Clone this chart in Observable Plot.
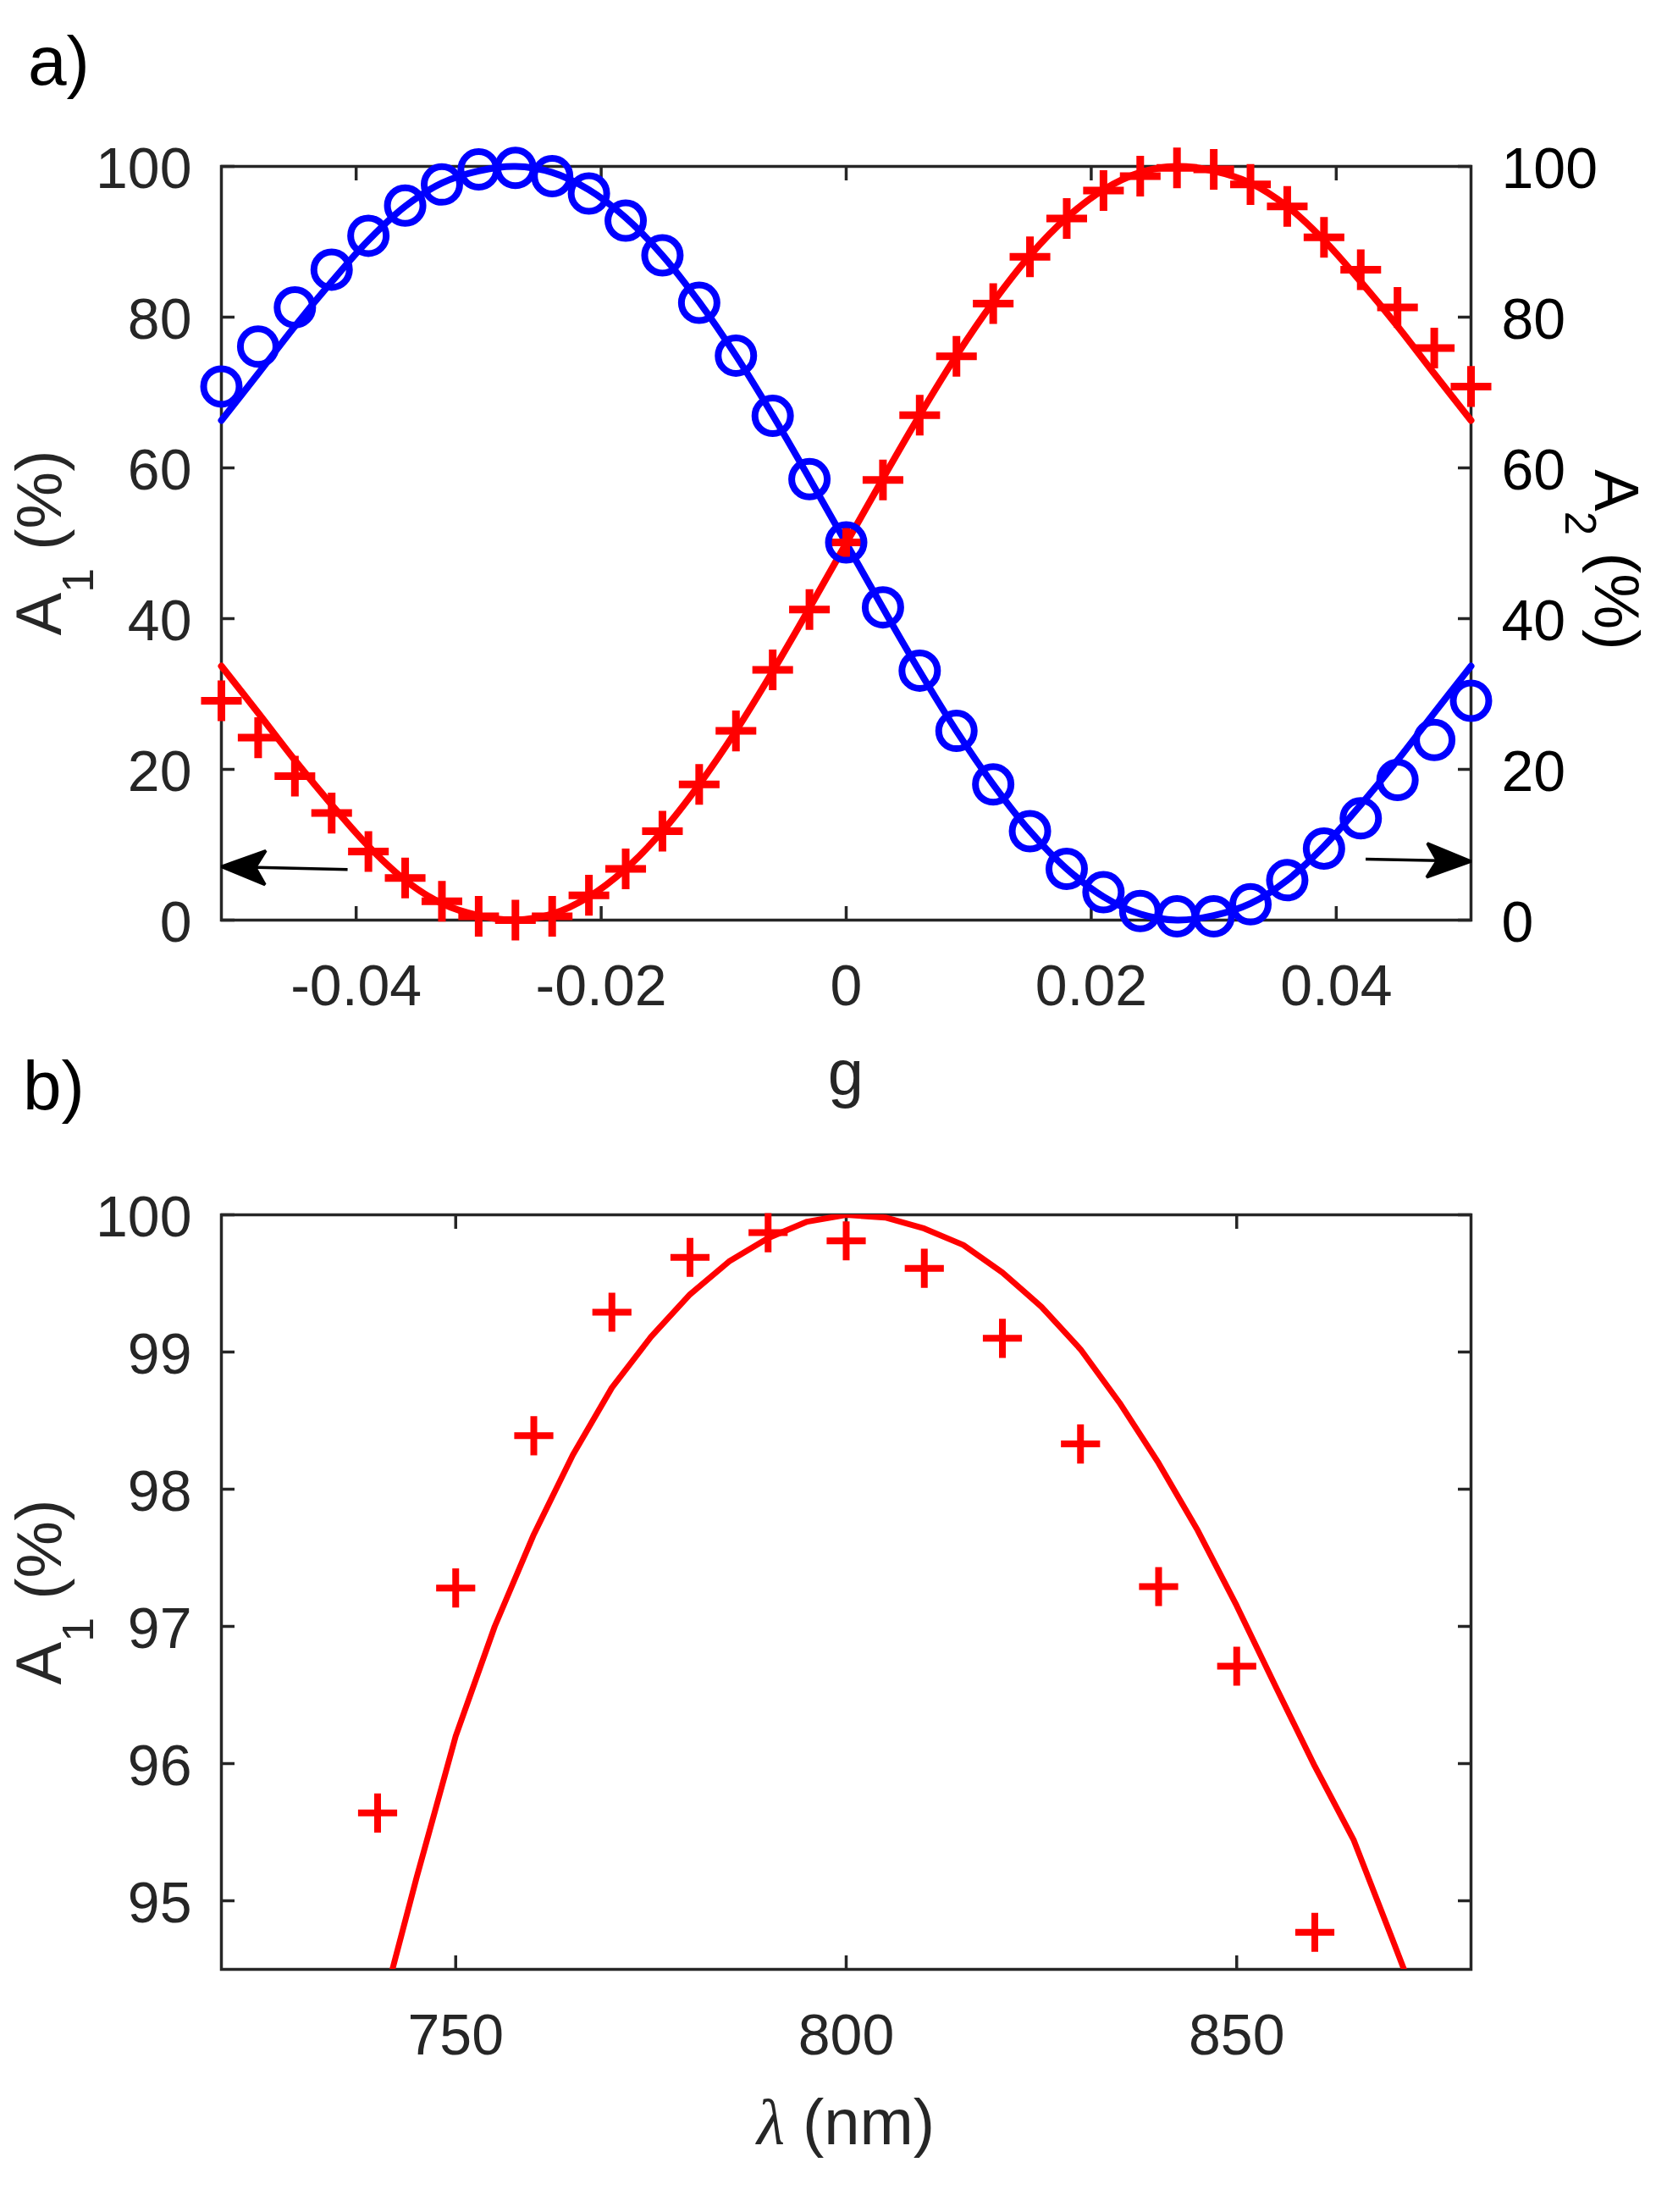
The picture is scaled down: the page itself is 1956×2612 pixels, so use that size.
<!DOCTYPE html>
<html>
<head>
<meta charset="utf-8">
<script src="https://cdn.jsdelivr.net/npm/d3@7"></script>
<script src="https://cdn.jsdelivr.net/npm/@observablehq/plot@0.6"></script>
<style>
html, body { margin: 0; padding: 0; background: #fff; }
#page { position: relative; width: 1956px; height: 2612px; overflow: hidden; }
#page > svg { position: absolute; left: 0; }
</style>
</head>
<body>
<div id="page"></div>
<script>
// ---------- Panel a) data ----------
const gValues = [-0.051, -0.048, -0.045, -0.042, -0.039, -0.036, -0.033, -0.030, -0.027, -0.024,
  -0.021, -0.018, -0.015, -0.012, -0.009, -0.006, -0.003, 0, 0.003, 0.006, 0.009, 0.012, 0.015,
  0.018, 0.021, 0.024, 0.027, 0.030, 0.033, 0.036, 0.039, 0.042, 0.045, 0.048, 0.051];
// A1 markers (red +)
const a1Markers = [29.1, 24.2, 19.1, 14.2, 9.1, 5.6, 2.5, 0.5, 0.0, 0.5, 3.3, 6.8, 11.8, 18.0, 25.1,
  33.2, 41.2, 50.1, 58.4, 67.0, 74.8, 81.8, 88.0, 93.1, 96.8, 98.7, 99.8, 99.6, 97.6, 94.7, 90.6,
  86.3, 81.3, 75.9, 70.8];
// A2 markers (blue o)
const a2Markers = [70.8, 76.1, 81.3, 86.3, 90.8, 94.8, 97.6, 99.6, 99.8, 98.7, 96.4, 92.8, 88.2, 81.9,
  74.9, 66.9, 58.5, 50.1, 41.5, 33.1, 25.1, 18.0, 11.8, 6.8, 3.7, 1.2, 0.5, 0.5, 2.1, 5.3, 9.5, 13.5,
  18.6, 23.9, 29.1];
// A1 theory line (red)
const a1Line = [33.7, 27.5, 21.2, 15.3, 9.8, 5.3, 2.2, 0.6, 0.0, 0.8, 3.1, 6.8, 11.8, 18.0, 25.1, 33.0,
  41.4, 50.0, 58.6, 67.0, 74.9, 82.0, 88.2, 93.2, 96.9, 99.2, 100.0, 99.4, 97.8, 94.7, 90.2, 84.7,
  78.8, 72.5, 66.3];
// A2 theory line (blue)
const a2Line = [66.3, 72.5, 78.8, 84.7, 90.2, 94.7, 97.8, 99.4, 100.0, 99.2, 96.9, 93.2, 88.2, 82.0,
  74.9, 67.0, 58.6, 50.0, 41.4, 33.0, 25.1, 18.0, 11.8, 6.8, 3.1, 0.8, 0.0, 0.6, 2.2, 5.3, 9.8, 15.3,
  21.2, 27.5, 33.7];
const gTicks = [-0.04, -0.02, 0, 0.02, 0.04];
const aTicks = [0, 20, 40, 60, 80, 100];
// arrows pointing to the axis each series belongs to
const arrowG1 = [-0.0407, 0.0424];
const arrowA1 = [6.7, 8.1];
const arrowG2 = [-0.051, 0.051];
const arrowA2 = [7.1, 7.8];

// ---------- Panel b) data ----------
const lambdaMarkers = [740, 750, 760, 770, 780, 790, 800, 810, 820, 830, 840, 850, 860];
const lambdaA1Markers = [95.64, 97.28, 98.39, 99.29, 99.69, 99.87, 99.81, 99.61, 99.10, 98.33, 97.29, 96.71, 94.77];
const lambdaLine = [740, 745, 750, 755, 760, 765, 770, 775, 780, 785, 790, 795, 800, 805, 810, 815,
  820, 825, 830, 835, 840, 845, 850, 855, 860, 865, 870, 875];
const lambdaA1Line = [94.09, 95.17, 96.2, 97.0, 97.67, 98.25, 98.74, 99.11, 99.42, 99.66, 99.83, 99.95,
  100.0, 99.98, 99.9, 99.78, 99.58, 99.33, 99.02, 98.63, 98.19, 97.7, 97.15, 96.56, 95.98, 95.44, 94.71, 93.97];
const lambdaTicks = [750, 800, 850];
const bTicks = [95, 96, 97, 98, 99, 100];

// ---------- styling ----------
const FONT = '"Liberation Sans", Arial, Helvetica, sans-serif';
const AX = "#262626";
const RED = "#ff0000";
const BLUE = "#0000ff";
const fmt = d => String(d);

function arrowHead(color) {
  const ns = "http://www.w3.org/2000/svg";
  const m = document.createElementNS(ns, "marker");
  m.setAttribute("viewBox", "-60 -30 70 60");
  m.setAttribute("markerUnits", "userSpaceOnUse");
  m.setAttribute("markerWidth", "70");
  m.setAttribute("markerHeight", "60");
  m.setAttribute("refX", "0");
  m.setAttribute("refY", "0");
  m.setAttribute("orient", "auto");
  const p = document.createElementNS(ns, "path");
  p.setAttribute("d", "M0,0L-52,-20L-40,0L-52,20Z");
  p.setAttribute("fill", color);
  m.appendChild(p);
  return m;
}

function axesMarks(xTicks, yTicks, rightLabels) {
  const marks = [
    Plot.frame({stroke: AX, strokeWidth: 3.5}),
    Plot.axisX({ticks: xTicks, anchor: "bottom", tickSize: -16, fill: "none", stroke: AX, strokeWidth: 3.5, label: null}),
    Plot.axisX({ticks: xTicks, anchor: "top", tickSize: -16, fill: "none", stroke: AX, strokeWidth: 3.5, label: null}),
    Plot.axisY({ticks: yTicks, anchor: "left", tickSize: -16, fill: "none", stroke: AX, strokeWidth: 3.5, label: null}),
    Plot.axisY({ticks: yTicks, anchor: "right", tickSize: -16, fill: "none", stroke: AX, strokeWidth: 3.5, label: null}),
    Plot.axisX({ticks: xTicks, anchor: "bottom", tickSize: 0, tickPadding: 52, tickFormat: fmt, fill: AX, label: null}),
    Plot.axisY({ticks: yTicks, anchor: "left", tickSize: 0, tickPadding: 35, tickFormat: fmt, fill: AX, dy: 4, label: null})
  ];
  if (rightLabels) {
    marks.push(Plot.axisY({ticks: yTicks, anchor: "right", tickSize: 0, tickPadding: 36, tickFormat: fmt, fill: "#000", dy: 4, label: null}));
  }
  return marks;
}

// ---------- Panel a) ----------
const tableA = gValues.map((g, i) => ({g, m1: a1Markers[i], m2: a2Markers[i], l1: a1Line[i], l2: a2Line[i]}));
const arrows = arrowG1.map((g, i) => ({x1: g, y1: arrowA1[i], x2: arrowG2[i], y2: arrowA2[i]}));

const chartA = Plot.plot({
  width: 1956,
  height: 1300,
  marginTop: 196,
  marginBottom: 214,
  marginLeft: 261,
  marginRight: 219,
  style: {fontFamily: FONT, fontSize: "68px", color: AX, background: "white", overflow: "visible"},
  x: {domain: [-0.051, 0.051]},
  y: {domain: [0, 100]},
  marks: [
    ...axesMarks(gTicks, aTicks, true),
    Plot.line(tableA, {x: "g", y: "l1", stroke: RED, strokeWidth: 8, curve: "catmull-rom"}),
    Plot.line(tableA, {x: "g", y: "l2", stroke: BLUE, strokeWidth: 8, curve: "catmull-rom"}),
    Plot.dot(tableA, {x: "g", y: "m1", symbol: "plus", r: 15.5, stroke: RED, strokeWidth: 9, fill: "none"}),
    Plot.dot(tableA, {x: "g", y: "m2", r: 21, stroke: BLUE, strokeWidth: 8, fill: "none"}),
    Plot.link(arrows, {x1: "x1", y1: "y1", x2: "x2", y2: "y2", stroke: "#000", strokeWidth: 3.5, markerEnd: arrowHead})
  ]
});
chartA.style.top = "0px";

// ---------- Panel b) ----------
const tableBm = lambdaMarkers.map((l, i) => ({l, a: lambdaA1Markers[i]}));
const tableBl = lambdaLine.map((l, i) => ({l, a: lambdaA1Line[i]}));

const chartB = Plot.plot({
  width: 1956,
  height: 1312,
  marginTop: 134,
  marginBottom: 287,
  marginLeft: 261,
  marginRight: 219,
  style: {fontFamily: FONT, fontSize: "68px", color: AX, background: "white", overflow: "visible"},
  x: {domain: [720, 880]},
  y: {domain: [94.5, 100]},
  marks: [
    ...axesMarks(lambdaTicks, bTicks, false),
    Plot.line(tableBl, {x: "l", y: "a", stroke: RED, strokeWidth: 7, clip: true}),
    Plot.dot(tableBm, {x: "l", y: "a", symbol: "plus", r: 14.9, stroke: RED, strokeWidth: 8, fill: "none"})
  ]
});
chartB.style.top = "1300px";

const page = document.getElementById("page");
page.appendChild(chartA);
page.appendChild(chartB);

// ---------- text labels (panel letters, axis titles) ----------
const ns = "http://www.w3.org/2000/svg";
const overlay = document.createElementNS(ns, "svg");
overlay.setAttribute("width", "1956");
overlay.setAttribute("height", "2612");
overlay.style.position = "absolute";
overlay.style.left = "0px";
overlay.style.top = "0px";
overlay.style.pointerEvents = "none";
overlay.setAttribute("font-family", FONT);
overlay.innerHTML = `
  <text x="33" y="100" font-size="82" fill="#000">a)</text>
  <text x="27" y="1310" font-size="82" fill="#000">b)</text>
  <text transform="translate(72,641) rotate(-90)" text-anchor="middle" font-size="76" fill="${AX}">A<tspan dy="38" font-size="52">1</tspan><tspan dy="-38"> (%)</tspan></text>
  <text transform="translate(1884,661) rotate(90)" text-anchor="middle" font-size="74" fill="#000">A<tspan dy="35" font-size="51">2</tspan><tspan dy="-35"> (%)</tspan></text>
  <text x="999" y="1293" text-anchor="middle" font-size="76" fill="${AX}">g</text>
  <text transform="translate(72,1880) rotate(-90)" text-anchor="middle" font-size="76" fill="${AX}">A<tspan dy="38" font-size="52">1</tspan><tspan dy="-38"> (%)</tspan></text>
  <text x="999" y="2532" text-anchor="middle" font-size="76" fill="${AX}"><tspan font-family="Liberation Serif, DejaVu Serif, serif" font-style="italic">λ</tspan> (nm)</text>
`;
page.appendChild(overlay);
</script>
</body>
</html>
